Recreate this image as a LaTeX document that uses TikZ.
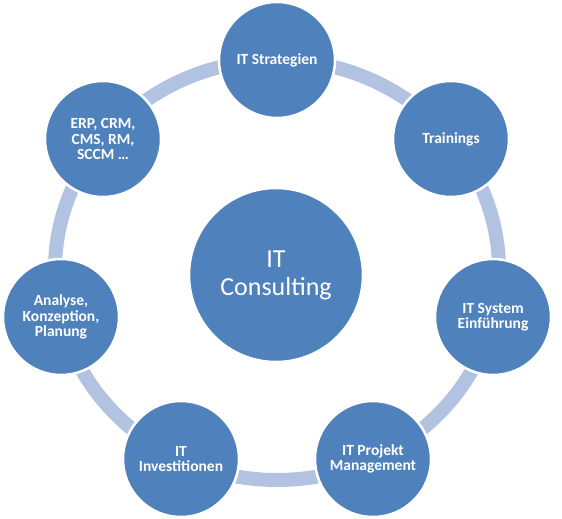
\documentclass[tikz,border=0pt]{standalone}
\usepackage{fontspec}
\setmainfont{Carlito}
\usepackage{tikz}
\usetikzlibrary{positioning, calc}
\usepackage{xcolor}
\definecolor{topicblue}{RGB}{79,129,189}
\definecolor{ringblue}{RGB}{178,194,225}

\tikzset{
  topic/.style={circle, fill=topicblue, draw=white, line width=2.5pt,
    minimum size=116pt, inner sep=0pt, align=center, text=white,
    font=\fontsize{15.5}{15.5}\selectfont\bfseries},
  hub/.style={topic, minimum size=174pt, font=\fontsize{26}{28}\selectfont},
  ringband/.style={ringblue, line width=14pt}
}

\begin{document}
\begin{tikzpicture}[x=1pt, y=1pt]
  \useasboundingbox (0,0) rectangle (562,519);
  % ring behind the topics
  \coordinate (ringmid) at (277,249);
  \draw[ringband] (ringmid) ellipse [x radius=222, y radius=210];
  % centre
  \node[hub] (consulting) at (276,244) {IT\\Consulting};
  % topics round the ring
  \node[topic] (strategien) at (277,459) {IT Strategien};
  \node[topic] (trainings) at (451,380) {Trainings};
  \node[topic] (einfuehrung) at (493,202) {IT System\\Einführung};
  \node[topic] (projekt) at (373,60) {IT Projekt\\Management};
  \node[topic] (investitionen) at (181,60) {IT\\Investitionen};
  \node[topic] (analyse) at (61,202) {Analyse,\\Konzeption,\\Planung};
  \node[topic] (erp) at (103,380) {ERP, CRM,\\CMS, RM,\\SCCM \dots};
\end{tikzpicture}
\end{document}
